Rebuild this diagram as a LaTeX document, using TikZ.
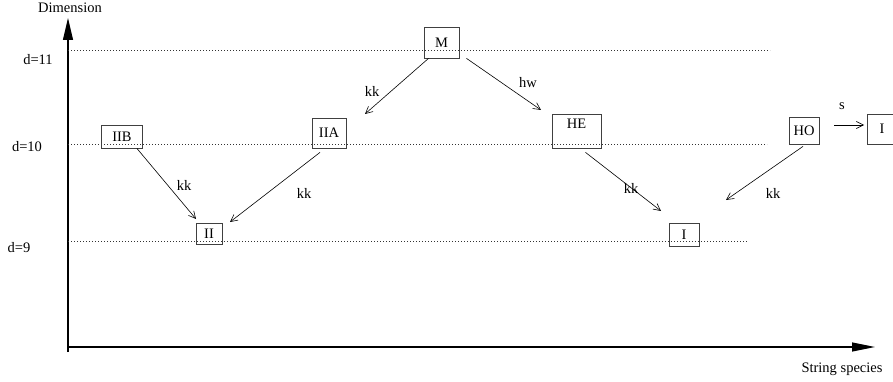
\documentclass[tikz,border=0pt]{standalone}
\usepackage{fontspec}
\setmainfont{Liberation Serif}
\usetikzlibrary{arrows.meta}
\begin{document}
\begin{tikzpicture}[x=1pt,y=-1pt,
  every node/.style={font=\fontsize{14.5}{17}\selectfont},
  stringbox/.style={draw=black!75,line width=0.8pt,inner sep=0pt,text height=9.8pt,text depth=0pt},
  level/.style={dash pattern=on 0.6pt off 2.4pt,line width=0.7pt,black!80},
  axis/.style={line width=1.1pt,-{Triangle[length=22pt,width=10pt]}},
  haxis/.style={line width=1.1pt,-{Triangle[length=23pt,width=9pt]}},
  move/.style={line width=0.6pt,-{Straight Barb[length=7pt,width=7pt,line width=0.6pt]}},
  lab/.style={inner sep=0pt}]
\useasboundingbox (0,0) rectangle (893,382);
\clip (0,0) rectangle (893,382);

% axes
\coordinate (o) at (68,352);
\coordinate (ytip) at (68,18);
\coordinate (hstart) at (68,347);
\coordinate (xtip) at (875,347);
\draw[axis] (o) -- (ytip);
\draw[haxis] (hstart) -- (xtip);
\node[lab] (ylab) at (70,8) {Dimension};
\node[lab] (xlab) at (842,369) {String species};

% dimension levels
\coordinate (l11a) at (68,50);  \coordinate (l11b) at (770,50);
\coordinate (l10a) at (68,144); \coordinate (l10b) at (767,144);
\coordinate (l9a)  at (68,241); \coordinate (l9b)  at (748,241);
\draw[level] (l11a) -- (l11b);
\draw[level] (l10a) -- (l10b);
\draw[level] (l9a) -- (l9b);
\node[lab] (d11) at (38,60) {d=11};
\node[lab] (d10) at (27,147) {d=10};
\node[lab] (d9)  at (19,248) {d=9};

% string theories
\node[stringbox,minimum width=41pt,minimum height=23pt] (IIB) at (122,136.5) {IIB};
\node[stringbox,minimum width=26pt,minimum height=21pt] (II)  at (209,233.5) {II};
\node[stringbox,minimum width=34pt,minimum height=30pt] (IIA) at (329,133) {IIA};
\node[stringbox,minimum width=35pt,minimum height=31pt] (M)   at (441.5,42.5) {M};
\node[stringbox,minimum width=49pt,minimum height=34pt,text depth=14pt,inner ysep=5pt] (HE) at (576.5,131) {HE};
\node[stringbox,minimum width=30pt,minimum height=27pt] (HO)  at (804,130.5) {HO};
\node[stringbox,minimum width=30pt,minimum height=30pt] (Ir)  at (882,129) {I};
\node[stringbox,minimum width=30pt,minimum height=23pt] (Ib)  at (684,234.5) {I};

% compactifications and limits
\coordinate (IIBend) at (196,219);
\coordinate (IIAend) at (230,222);
\coordinate (MAend)  at (365,114);
\coordinate (MHend)  at (541,110);
\coordinate (HEend)  at (661,211);
\coordinate (HOend)  at (726,200);
\coordinate (sstart) at (834,125);
\coordinate (send)   at (864,125);
\draw[move] (IIB.south east) ++(-6,0) -- (IIBend);
\draw[move] ([xshift=-9pt,yshift=-4pt]IIA.south) -- (IIAend);
\draw[move] ([xshift=-13pt,yshift=0pt]M.south) -- (MAend);
\draw[move] ([xshift=25pt,yshift=0pt]M.south) -- (MHend);
\draw[move] ([xshift=9pt,yshift=-4pt]HE.south) -- (HEend);
\draw[move] ([xshift=-1pt,yshift=-2pt]HO.south) -- (HOend);
\draw[move] (sstart) -- (send);

\node[lab] (k1) at (184,185) {kk};
\node[lab] (k2) at (304,193) {kk};
\node[lab] (k3) at (372,91) {kk};
\node[lab] (hw) at (528,83) {hw};
\node[lab] (k4) at (631,188) {kk};
\node[lab] (k5) at (773,193) {kk};
\node[lab] (s)  at (842,106) {s};
\end{tikzpicture}
\end{document}
